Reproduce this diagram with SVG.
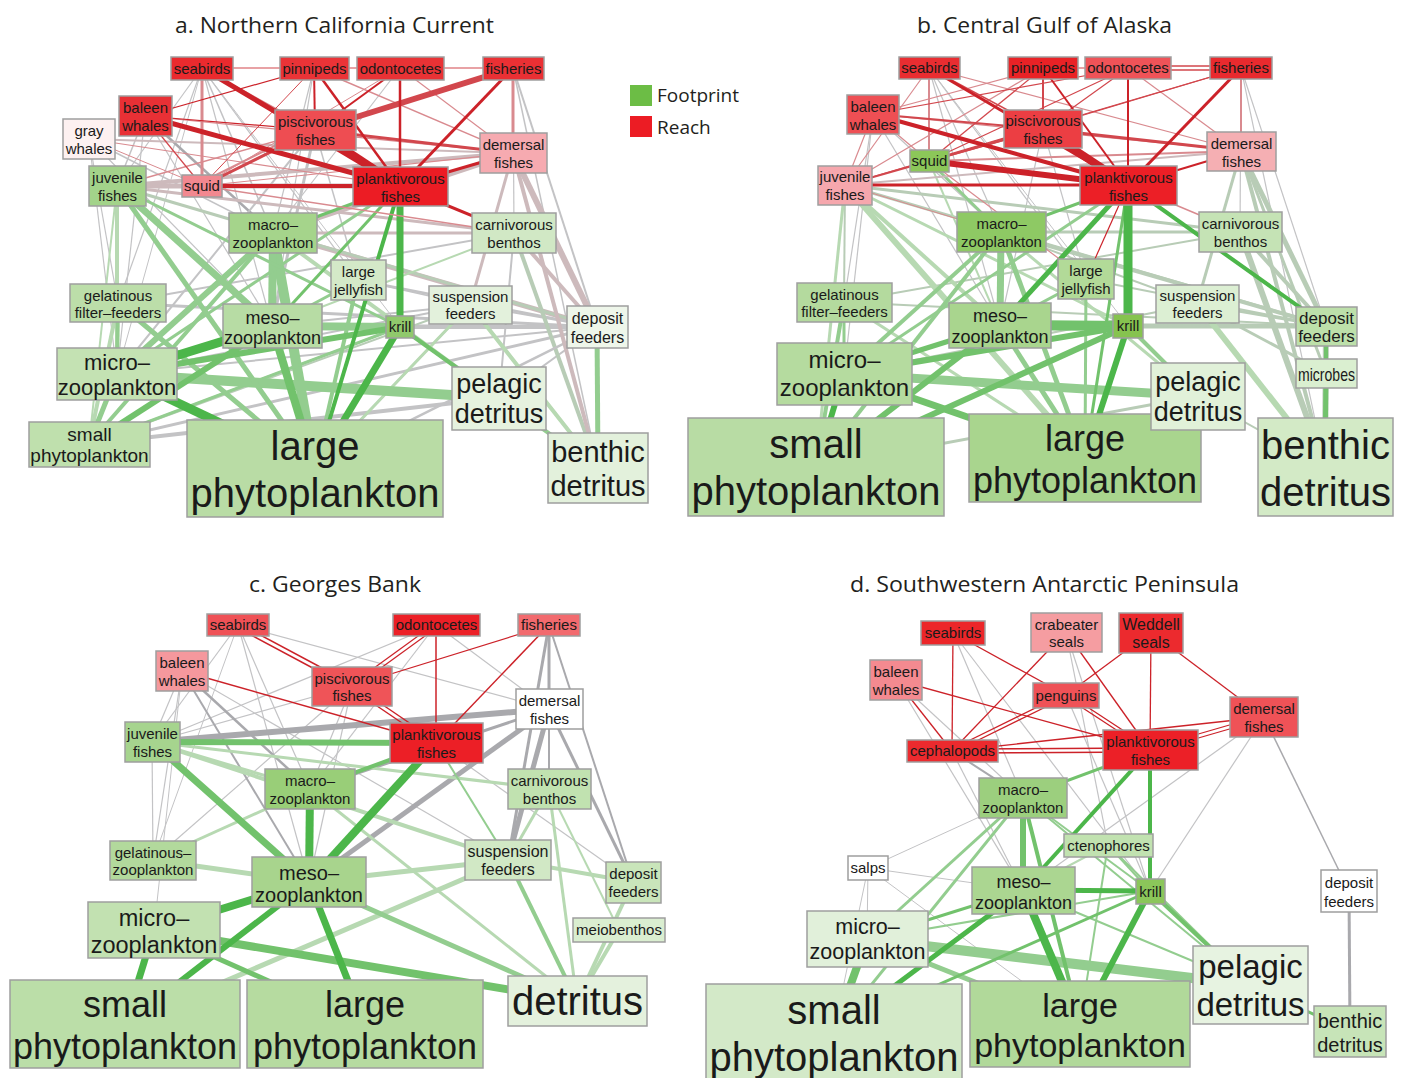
<svg xmlns="http://www.w3.org/2000/svg" width="1405" height="1078" viewBox="0 0 1405 1078">
<style>
.bg{fill:#fff}
line{fill:none}
.R{stroke:#cc2229}.Rm{stroke:#d2474d}.Rl{stroke:#d98a8f}.Rp{stroke:#cdbabc}
.G{stroke:#c3c3c5}.Gd{stroke:#a9a9ad}.NG{stroke:#b8ccb6}
.N1{stroke:#4cb64a}.N2{stroke:#72c26c}.N3{stroke:#93cd8f}.N4{stroke:#b7d9b2}
.nd rect{stroke:#9e9e9e;stroke-width:1.5}
.nd text{font-family:"Liberation Sans",Arial,sans-serif;text-anchor:middle;fill:#1a1a1a;font-size:15px}
.ttl{font-family:"Open Sans","Liberation Sans",sans-serif;font-size:22px;fill:#231f20}
.leg{font-family:"Open Sans","Liberation Sans",sans-serif;font-size:19px;fill:#231f20}
</style>
<rect class="bg" x="0" y="0" width="1405" height="1078"/>
<text class="ttl" x="175" y="33" textLength="319" lengthAdjust="spacingAndGlyphs">a. Northern California Current</text>
<text class="ttl" x="917" y="33" textLength="255" lengthAdjust="spacingAndGlyphs">b. Central Gulf of Alaska</text>
<text class="ttl" x="249" y="592" textLength="172" lengthAdjust="spacingAndGlyphs">c. Georges Bank</text>
<text class="ttl" x="850" y="592" textLength="389" lengthAdjust="spacingAndGlyphs">d. Southwestern Antarctic Peninsula</text>
<g id="legend">
<rect x="630" y="85" width="22" height="21" fill="#6cbd45"/>
<text class="leg" x="657" y="102">Footprint</text>
<rect x="630" y="116" width="22" height="21" fill="#ec1c24"/>
<text class="leg" x="657" y="134">Reach</text>
</g>
<g id="connectors">
<g id="edges-a">
<line class="G" x1="202" y1="68" x2="117" y2="186" stroke-width="1.2"/>
<line class="G" x1="202" y1="68" x2="273" y2="233" stroke-width="1.5"/>
<line class="G" x1="202" y1="68" x2="272" y2="326" stroke-width="1.2"/>
<line class="G" x1="202" y1="68" x2="118" y2="303" stroke-width="1.2"/>
<line class="G" x1="202" y1="68" x2="358" y2="280" stroke-width="1.2"/>
<line class="G" x1="202" y1="68" x2="117" y2="374" stroke-width="1"/>
<line class="G" x1="202" y1="68" x2="400" y2="327" stroke-width="1"/>
<line class="G" x1="145" y1="116" x2="117" y2="186" stroke-width="1.5"/>
<line class="G" x1="145" y1="116" x2="117" y2="374" stroke-width="1.2"/>
<line class="G" x1="145" y1="116" x2="272" y2="326" stroke-width="1.2"/>
<line class="Gd" x1="145" y1="116" x2="273" y2="233" stroke-width="2.5"/>
<line class="G" x1="89" y1="139" x2="117" y2="374" stroke-width="1.2"/>
<line class="G" x1="89" y1="139" x2="273" y2="233" stroke-width="1.5"/>
<line class="G" x1="89" y1="139" x2="118" y2="303" stroke-width="1.2"/>
<line class="G" x1="89" y1="139" x2="272" y2="326" stroke-width="1.2"/>
<line class="G" x1="513" y1="68" x2="597" y2="327" stroke-width="2"/>
<line class="G" x1="513" y1="68" x2="598" y2="468" stroke-width="1.5"/>
<line class="G" x1="513" y1="68" x2="514" y2="233" stroke-width="1.2"/>
<line class="G" x1="314" y1="68" x2="272" y2="326" stroke-width="1.2"/>
<line class="G" x1="314" y1="68" x2="273" y2="233" stroke-width="1.2"/>
<line class="G" x1="400" y1="68" x2="273" y2="233" stroke-width="1.2"/>
<line class="G" x1="315" y1="130" x2="272" y2="326" stroke-width="3"/>
<line class="G" x1="315" y1="130" x2="117" y2="374" stroke-width="2"/>
<line class="G" x1="315" y1="130" x2="358" y2="280" stroke-width="1.5"/>
<line class="Rp" x1="273" y1="233" x2="597" y2="327" stroke-width="5"/>
<line class="G" x1="358" y1="280" x2="597" y2="327" stroke-width="2.5"/>
<line class="G" x1="118" y1="303" x2="597" y2="327" stroke-width="3"/>
<line class="G" x1="272" y1="326" x2="597" y2="327" stroke-width="4"/>
<line class="G" x1="400" y1="327" x2="597" y2="327" stroke-width="4"/>
<line class="G" x1="117" y1="374" x2="597" y2="327" stroke-width="2"/>
<line class="G" x1="89" y1="444" x2="499" y2="398" stroke-width="4"/>
<line class="G" x1="89" y1="444" x2="597" y2="327" stroke-width="3"/>
<line class="G" x1="499" y1="398" x2="597" y2="327" stroke-width="2"/>
<line class="G" x1="470" y1="305" x2="598" y2="468" stroke-width="3"/>
<line class="G" x1="470" y1="305" x2="597" y2="327" stroke-width="2"/>
<line class="NG" x1="514" y1="233" x2="598" y2="468" stroke-width="4"/>
<line class="Rp" x1="273" y1="233" x2="514" y2="233" stroke-width="3"/>
<line class="G" x1="358" y1="280" x2="470" y2="305" stroke-width="1.5"/>
<line class="G" x1="118" y1="303" x2="514" y2="233" stroke-width="2"/>
<line class="G" x1="117" y1="374" x2="470" y2="305" stroke-width="2"/>
<line class="G" x1="272" y1="326" x2="470" y2="305" stroke-width="2"/>
<line class="G" x1="89" y1="444" x2="400" y2="327" stroke-width="2"/>
<line class="G" x1="400" y1="327" x2="598" y2="468" stroke-width="3"/>
<line class="G" x1="499" y1="398" x2="514" y2="233" stroke-width="2"/>
<line class="G" x1="315" y1="468" x2="597" y2="327" stroke-width="2.5"/>
<line class="G" x1="315" y1="468" x2="470" y2="305" stroke-width="2"/>
<line class="NG" x1="117" y1="186" x2="597" y2="327" stroke-width="3"/>
<line class="NG" x1="89" y1="444" x2="470" y2="305" stroke-width="2"/>
<line class="Rp" x1="117" y1="186" x2="400" y2="186" stroke-width="5"/>
<line class="Rp" x1="117" y1="186" x2="202" y2="186" stroke-width="3"/>
<line class="Rp" x1="89" y1="139" x2="513" y2="153" stroke-width="2"/>
<line class="Rp" x1="117" y1="186" x2="513" y2="153" stroke-width="4"/>
<line class="Rp" x1="273" y1="233" x2="513" y2="153" stroke-width="5"/>
<line class="Rp" x1="513" y1="153" x2="597" y2="327" stroke-width="6"/>
<line class="Rp" x1="514" y1="233" x2="597" y2="327" stroke-width="4"/>
<line class="Rp" x1="513" y1="153" x2="470" y2="305" stroke-width="3"/>
<line class="Rp" x1="513" y1="153" x2="598" y2="468" stroke-width="4"/>
<line class="Rp" x1="117" y1="186" x2="514" y2="233" stroke-width="3"/>
<line class="N4" x1="117" y1="186" x2="117" y2="374" stroke-width="4"/>
<line class="N4" x1="117" y1="186" x2="89" y2="444" stroke-width="2"/>
<line class="N4" x1="118" y1="303" x2="89" y2="444" stroke-width="4"/>
<line class="N4" x1="470" y1="305" x2="315" y2="468" stroke-width="3"/>
<line class="N4" x1="470" y1="305" x2="598" y2="468" stroke-width="4"/>
<line class="N4" x1="514" y1="233" x2="272" y2="326" stroke-width="2"/>
<line class="N4" x1="273" y1="233" x2="499" y2="398" stroke-width="4"/>
<line class="N3" x1="273" y1="233" x2="315" y2="468" stroke-width="10"/>
<line class="N3" x1="273" y1="233" x2="272" y2="326" stroke-width="8"/>
<line class="N3" x1="273" y1="233" x2="117" y2="374" stroke-width="6"/>
<line class="N3" x1="273" y1="233" x2="89" y2="444" stroke-width="4"/>
<line class="N3" x1="400" y1="186" x2="117" y2="374" stroke-width="3"/>
<line class="N3" x1="400" y1="327" x2="272" y2="326" stroke-width="8"/>
<line class="N3" x1="400" y1="327" x2="89" y2="444" stroke-width="3"/>
<line class="N3" x1="117" y1="374" x2="89" y2="444" stroke-width="5"/>
<line class="N3" x1="117" y1="374" x2="499" y2="398" stroke-width="10"/>
<line class="N3" x1="117" y1="186" x2="272" y2="326" stroke-width="7"/>
<line class="N3" x1="117" y1="186" x2="315" y2="468" stroke-width="5"/>
<line class="N3" x1="117" y1="186" x2="400" y2="327" stroke-width="3"/>
<line class="N3" x1="118" y1="303" x2="117" y2="374" stroke-width="4"/>
<line class="N3" x1="118" y1="303" x2="315" y2="468" stroke-width="5"/>
<line class="N3" x1="358" y1="280" x2="315" y2="468" stroke-width="4"/>
<line class="N3" x1="358" y1="280" x2="272" y2="326" stroke-width="3"/>
<line class="N3" x1="499" y1="398" x2="598" y2="468" stroke-width="4"/>
<line class="N3" x1="597" y1="327" x2="598" y2="468" stroke-width="5"/>
<line class="N2" x1="273" y1="233" x2="400" y2="186" stroke-width="3"/>
<line class="N2" x1="400" y1="186" x2="272" y2="326" stroke-width="3"/>
<line class="N2" x1="400" y1="327" x2="117" y2="374" stroke-width="6"/>
<line class="N2" x1="400" y1="327" x2="499" y2="398" stroke-width="4"/>
<line class="N2" x1="272" y1="326" x2="315" y2="468" stroke-width="8"/>
<line class="N2" x1="272" y1="326" x2="89" y2="444" stroke-width="6"/>
<line class="N1" x1="272" y1="326" x2="117" y2="374" stroke-width="9"/>
<line class="N1" x1="117" y1="374" x2="315" y2="468" stroke-width="9"/>
<line class="N1" x1="400" y1="186" x2="400" y2="327" stroke-width="7"/>
<line class="N1" x1="400" y1="186" x2="315" y2="468" stroke-width="4"/>
<line class="N1" x1="400" y1="327" x2="315" y2="468" stroke-width="7"/>
<line class="Rl" x1="202" y1="68" x2="202" y2="186" stroke-width="3"/>
<line class="Rl" x1="202" y1="68" x2="315" y2="130" stroke-width="1.5"/>
<line class="Rl" x1="145" y1="116" x2="513" y2="153" stroke-width="1.2"/>
<line class="Rl" x1="202" y1="182" x2="315" y2="126" stroke-width="2"/>
<line class="Rl" x1="202" y1="186" x2="400" y2="68" stroke-width="1"/>
<line class="Rl" x1="202" y1="186" x2="513" y2="153" stroke-width="1.2"/>
<line class="Rl" x1="513" y1="68" x2="513" y2="153" stroke-width="3"/>
<line class="Rl" x1="314" y1="68" x2="513" y2="153" stroke-width="1.5"/>
<line class="Rl" x1="400" y1="68" x2="513" y2="153" stroke-width="1.2"/>
<line class="Rl" x1="117" y1="186" x2="315" y2="130" stroke-width="1.5"/>
<line class="Rl" x1="89" y1="139" x2="400" y2="186" stroke-width="1.2"/>
<line class="Rl" x1="89" y1="139" x2="202" y2="186" stroke-width="1"/>
<line class="Rl" x1="202" y1="186" x2="514" y2="233" stroke-width="1.5"/>
<line class="Rm" x1="202" y1="68" x2="314" y2="68" stroke-width="1.2"/>
<line class="Rm" x1="314" y1="68" x2="400" y2="68" stroke-width="1.2"/>
<line class="Rm" x1="400" y1="68" x2="513" y2="68" stroke-width="1.2"/>
<line class="Rm" x1="145" y1="116" x2="202" y2="186" stroke-width="1.2"/>
<line class="Rm" x1="202" y1="186" x2="315" y2="130" stroke-width="3"/>
<line class="Rm" x1="202" y1="186" x2="314" y2="68" stroke-width="1"/>
<line class="Rm" x1="315" y1="130" x2="513" y2="68" stroke-width="6"/>
<line class="Rm" x1="315" y1="130" x2="513" y2="153" stroke-width="3"/>
<line class="R" x1="202" y1="68" x2="400" y2="186" stroke-width="5"/>
<line class="R" x1="145" y1="116" x2="314" y2="68" stroke-width="1.2"/>
<line class="R" x1="145" y1="116" x2="315" y2="130" stroke-width="1.2"/>
<line class="R" x1="145" y1="116" x2="400" y2="186" stroke-width="5"/>
<line class="R" x1="202" y1="186" x2="400" y2="186" stroke-width="4"/>
<line class="R" x1="315" y1="130" x2="400" y2="186" stroke-width="8"/>
<line class="R" x1="315" y1="130" x2="314" y2="68" stroke-width="2"/>
<line class="R" x1="315" y1="130" x2="400" y2="68" stroke-width="2"/>
<line class="R" x1="400" y1="186" x2="513" y2="68" stroke-width="3"/>
<line class="R" x1="400" y1="186" x2="513" y2="153" stroke-width="3"/>
<line class="R" x1="400" y1="186" x2="514" y2="233" stroke-width="3"/>
<line class="R" x1="400" y1="186" x2="400" y2="68" stroke-width="2.5"/>
<line class="R" x1="400" y1="186" x2="314" y2="68" stroke-width="2.5"/>
</g>
<g id="edges-b">
<line class="G" x1="929" y1="68" x2="1001" y2="232" stroke-width="1.2"/>
<line class="G" x1="929" y1="68" x2="1000" y2="325" stroke-width="1.2"/>
<line class="G" x1="929" y1="68" x2="1086" y2="279" stroke-width="1.2"/>
<line class="G" x1="929" y1="68" x2="1128" y2="326" stroke-width="1"/>
<line class="G" x1="873" y1="114" x2="844" y2="374" stroke-width="1.2"/>
<line class="G" x1="873" y1="114" x2="844" y2="302" stroke-width="1.2"/>
<line class="G" x1="873" y1="114" x2="1000" y2="325" stroke-width="1.2"/>
<line class="G" x1="873" y1="114" x2="1001" y2="232" stroke-width="1.2"/>
<line class="G" x1="1241" y1="68" x2="1326" y2="326" stroke-width="1.2"/>
<line class="G" x1="1241" y1="68" x2="1325" y2="467" stroke-width="1.2"/>
<line class="G" x1="1241" y1="68" x2="1240" y2="232" stroke-width="1.2"/>
<line class="G" x1="1086" y1="279" x2="1085" y2="458" stroke-width="1.2"/>
<line class="G" x1="1043" y1="129" x2="1000" y2="325" stroke-width="1.2"/>
<line class="G" x1="1043" y1="129" x2="1086" y2="279" stroke-width="1.2"/>
<line class="NG" x1="1241" y1="151" x2="1326" y2="326" stroke-width="5"/>
<line class="NG" x1="1241" y1="151" x2="1325" y2="467" stroke-width="4"/>
<line class="NG" x1="1241" y1="151" x2="1197" y2="304" stroke-width="3"/>
<line class="NG" x1="1241" y1="151" x2="1326" y2="373" stroke-width="3"/>
<line class="NG" x1="1240" y1="232" x2="1326" y2="326" stroke-width="4"/>
<line class="NG" x1="1240" y1="232" x2="1325" y2="467" stroke-width="6"/>
<line class="NG" x1="845" y1="185" x2="844" y2="302" stroke-width="2"/>
<line class="NG" x1="845" y1="185" x2="1326" y2="326" stroke-width="3"/>
<line class="NG" x1="845" y1="185" x2="1240" y2="232" stroke-width="3"/>
<line class="NG" x1="1001" y1="232" x2="1326" y2="326" stroke-width="4"/>
<line class="NG" x1="1086" y1="279" x2="1326" y2="326" stroke-width="2"/>
<line class="NG" x1="1128" y1="326" x2="1326" y2="326" stroke-width="5"/>
<line class="NG" x1="1000" y1="325" x2="1326" y2="326" stroke-width="2"/>
<line class="NG" x1="1197" y1="304" x2="1326" y2="373" stroke-width="3"/>
<line class="NG" x1="1197" y1="304" x2="1326" y2="326" stroke-width="3"/>
<line class="NG" x1="844" y1="302" x2="1326" y2="326" stroke-width="2"/>
<line class="NG" x1="844" y1="374" x2="1197" y2="304" stroke-width="2"/>
<line class="NG" x1="816" y1="467" x2="1198" y2="396" stroke-width="3"/>
<line class="NG" x1="1198" y1="396" x2="1325" y2="467" stroke-width="2"/>
<line class="NG" x1="1001" y1="232" x2="1197" y2="304" stroke-width="2"/>
<line class="NG" x1="1001" y1="232" x2="1240" y2="232" stroke-width="3"/>
<line class="NG" x1="844" y1="302" x2="1240" y2="232" stroke-width="2"/>
<line class="NG" x1="1326" y1="326" x2="1325" y2="467" stroke-width="6"/>
<line class="N4" x1="845" y1="185" x2="1085" y2="458" stroke-width="6"/>
<line class="N4" x1="845" y1="185" x2="1000" y2="325" stroke-width="4"/>
<line class="N4" x1="845" y1="185" x2="816" y2="467" stroke-width="3"/>
<line class="N4" x1="845" y1="185" x2="1128" y2="326" stroke-width="3"/>
<line class="N4" x1="1197" y1="304" x2="1325" y2="467" stroke-width="6"/>
<line class="N4" x1="1001" y1="232" x2="1198" y2="396" stroke-width="3"/>
<line class="N4" x1="844" y1="302" x2="1085" y2="458" stroke-width="3"/>
<line class="N4" x1="929" y1="161" x2="1000" y2="325" stroke-width="2"/>
<line class="N3" x1="1128" y1="185" x2="844" y2="374" stroke-width="3"/>
<line class="N3" x1="1001" y1="232" x2="1000" y2="325" stroke-width="7"/>
<line class="N3" x1="1001" y1="232" x2="1085" y2="458" stroke-width="5"/>
<line class="N3" x1="1001" y1="232" x2="844" y2="374" stroke-width="4"/>
<line class="N3" x1="1001" y1="232" x2="816" y2="467" stroke-width="4"/>
<line class="N3" x1="1128" y1="326" x2="1198" y2="396" stroke-width="4"/>
<line class="N3" x1="1000" y1="325" x2="1085" y2="458" stroke-width="5"/>
<line class="N3" x1="844" y1="374" x2="1198" y2="396" stroke-width="9"/>
<line class="N3" x1="844" y1="302" x2="816" y2="467" stroke-width="4"/>
<line class="N3" x1="844" y1="302" x2="844" y2="374" stroke-width="3"/>
<line class="N3" x1="929" y1="161" x2="1001" y2="232" stroke-width="3"/>
<line class="N3" x1="1086" y1="279" x2="1085" y2="458" stroke-width="3"/>
<line class="N3" x1="1086" y1="279" x2="1000" y2="325" stroke-width="3"/>
<line class="N3" x1="1085" y1="458" x2="1198" y2="396" stroke-width="4"/>
<line class="N2" x1="1128" y1="185" x2="1001" y2="232" stroke-width="3"/>
<line class="N2" x1="1128" y1="185" x2="1085" y2="458" stroke-width="3"/>
<line class="N2" x1="1128" y1="326" x2="1000" y2="325" stroke-width="10"/>
<line class="N2" x1="1128" y1="326" x2="816" y2="467" stroke-width="6"/>
<line class="N2" x1="1128" y1="326" x2="844" y2="374" stroke-width="6"/>
<line class="N2" x1="1000" y1="325" x2="816" y2="467" stroke-width="6"/>
<line class="N2" x1="1000" y1="325" x2="844" y2="374" stroke-width="5"/>
<line class="N2" x1="844" y1="374" x2="1085" y2="458" stroke-width="7"/>
<line class="N2" x1="1326" y1="373" x2="1325" y2="467" stroke-width="5"/>
<line class="N2" x1="1326" y1="326" x2="1326" y2="373" stroke-width="4"/>
<line class="N1" x1="1128" y1="185" x2="1128" y2="326" stroke-width="9"/>
<line class="N1" x1="1128" y1="185" x2="1000" y2="325" stroke-width="5"/>
<line class="N1" x1="1128" y1="185" x2="1326" y2="326" stroke-width="4"/>
<line class="N1" x1="1128" y1="326" x2="1085" y2="458" stroke-width="6"/>
<line class="N1" x1="844" y1="374" x2="816" y2="467" stroke-width="6"/>
<line class="Rp" x1="845" y1="185" x2="1241" y2="151" stroke-width="2"/>
<line class="Rl" x1="929" y1="68" x2="929" y2="161" stroke-width="2"/>
<line class="Rl" x1="929" y1="68" x2="845" y2="185" stroke-width="1.2"/>
<line class="Rl" x1="929" y1="68" x2="1241" y2="151" stroke-width="1.2"/>
<line class="Rl" x1="1241" y1="68" x2="1241" y2="151" stroke-width="2"/>
<line class="Rl" x1="873" y1="114" x2="929" y2="161" stroke-width="1.2"/>
<line class="Rl" x1="873" y1="114" x2="845" y2="185" stroke-width="1.2"/>
<line class="Rl" x1="873" y1="114" x2="1043" y2="68" stroke-width="1.2"/>
<line class="Rl" x1="873" y1="114" x2="1241" y2="151" stroke-width="1.2"/>
<line class="Rl" x1="1043" y1="68" x2="845" y2="185" stroke-width="1.2"/>
<line class="Rl" x1="1128" y1="68" x2="1241" y2="151" stroke-width="1.2"/>
<line class="Rl" x1="929" y1="161" x2="1241" y2="151" stroke-width="2"/>
<line class="Rl" x1="1128" y1="185" x2="1240" y2="232" stroke-width="1.5"/>
<line class="Rl" x1="929" y1="161" x2="1086" y2="279" stroke-width="1.2"/>
<line class="Rl" x1="845" y1="185" x2="1001" y2="232" stroke-width="1"/>
<line class="Rm" x1="929" y1="68" x2="1043" y2="129" stroke-width="1.5"/>
<line class="Rm" x1="1043" y1="68" x2="1128" y2="68" stroke-width="1.2"/>
<line class="Rm" x1="1128" y1="66" x2="1241" y2="66" stroke-width="1.5"/>
<line class="Rm" x1="1128" y1="70" x2="1241" y2="70" stroke-width="1.5"/>
<line class="Rm" x1="1241" y1="68" x2="929" y2="161" stroke-width="1.2"/>
<line class="Rm" x1="1241" y1="68" x2="845" y2="185" stroke-width="1.2"/>
<line class="Rm" x1="873" y1="114" x2="1043" y2="129" stroke-width="2"/>
<line class="Rm" x1="873" y1="114" x2="1128" y2="68" stroke-width="1.2"/>
<line class="Rm" x1="1043" y1="68" x2="1043" y2="129" stroke-width="2"/>
<line class="Rm" x1="1043" y1="68" x2="929" y2="161" stroke-width="1.2"/>
<line class="Rm" x1="1128" y1="68" x2="1043" y2="129" stroke-width="1.2"/>
<line class="Rm" x1="1128" y1="68" x2="929" y2="161" stroke-width="1.2"/>
<line class="Rm" x1="1043" y1="129" x2="1241" y2="151" stroke-width="3"/>
<line class="Rm" x1="1043" y1="129" x2="929" y2="161" stroke-width="2"/>
<line class="Rm" x1="1043" y1="129" x2="845" y2="185" stroke-width="2"/>
<line class="R" x1="929" y1="68" x2="1128" y2="185" stroke-width="3"/>
<line class="R" x1="1241" y1="68" x2="1128" y2="185" stroke-width="3"/>
<line class="R" x1="873" y1="114" x2="1128" y2="185" stroke-width="4"/>
<line class="R" x1="1043" y1="68" x2="1128" y2="185" stroke-width="2"/>
<line class="R" x1="1128" y1="68" x2="1128" y2="185" stroke-width="2"/>
<line class="R" x1="1043" y1="129" x2="1128" y2="185" stroke-width="8"/>
<line class="R" x1="929" y1="161" x2="1128" y2="185" stroke-width="6"/>
<line class="R" x1="845" y1="185" x2="1128" y2="185" stroke-width="3"/>
<line class="R" x1="1128" y1="185" x2="1241" y2="151" stroke-width="2"/>
<line class="R" x1="1128" y1="185" x2="1086" y2="279" stroke-width="1.2"/>
</g>
<g id="edges-c">
<line class="G" x1="238" y1="625" x2="549" y2="709" stroke-width="1.2"/>
<line class="G" x1="238" y1="625" x2="152" y2="742" stroke-width="1.2"/>
<line class="G" x1="238" y1="625" x2="310" y2="789" stroke-width="1.2"/>
<line class="G" x1="238" y1="625" x2="309" y2="882" stroke-width="1.2"/>
<line class="G" x1="238" y1="625" x2="153" y2="860" stroke-width="1"/>
<line class="G" x1="182" y1="671" x2="152" y2="742" stroke-width="1.2"/>
<line class="G" x1="182" y1="671" x2="153" y2="860" stroke-width="1.2"/>
<line class="G" x1="182" y1="671" x2="154" y2="930" stroke-width="1"/>
<line class="G" x1="182" y1="671" x2="508" y2="860" stroke-width="1.2"/>
<line class="G" x1="436" y1="625" x2="310" y2="789" stroke-width="1.2"/>
<line class="G" x1="436" y1="625" x2="152" y2="742" stroke-width="1.2"/>
<line class="G" x1="436" y1="625" x2="549" y2="709" stroke-width="1.2"/>
<line class="G" x1="352" y1="686" x2="152" y2="742" stroke-width="1.2"/>
<line class="G" x1="352" y1="686" x2="153" y2="860" stroke-width="1.2"/>
<line class="G" x1="352" y1="686" x2="309" y2="882" stroke-width="1.2"/>
<line class="G" x1="352" y1="686" x2="310" y2="789" stroke-width="1.2"/>
<line class="G" x1="152" y1="742" x2="153" y2="860" stroke-width="1.2"/>
<line class="G" x1="309" y1="882" x2="577" y2="1001" stroke-width="1"/>
<line class="G" x1="436" y1="743" x2="633" y2="882" stroke-width="1.2"/>
<line class="G" x1="153" y1="860" x2="310" y2="789" stroke-width="1.2"/>
<line class="Gd" x1="182" y1="671" x2="310" y2="789" stroke-width="2.5"/>
<line class="Gd" x1="182" y1="671" x2="309" y2="882" stroke-width="2"/>
<line class="Gd" x1="152" y1="742" x2="549" y2="709" stroke-width="6"/>
<line class="Gd" x1="310" y1="789" x2="549" y2="709" stroke-width="3"/>
<line class="Gd" x1="309" y1="882" x2="549" y2="709" stroke-width="5"/>
<line class="Gd" x1="549" y1="709" x2="508" y2="860" stroke-width="5"/>
<line class="Gd" x1="549" y1="625" x2="508" y2="860" stroke-width="3"/>
<line class="Gd" x1="549" y1="625" x2="549" y2="709" stroke-width="3"/>
<line class="Gd" x1="549" y1="709" x2="633" y2="882" stroke-width="3"/>
<line class="Gd" x1="549" y1="709" x2="549" y2="789" stroke-width="2"/>
<line class="Gd" x1="549" y1="625" x2="633" y2="882" stroke-width="2"/>
<line class="N4" x1="152" y1="742" x2="508" y2="860" stroke-width="4"/>
<line class="N4" x1="152" y1="742" x2="549" y2="789" stroke-width="3"/>
<line class="N4" x1="152" y1="742" x2="310" y2="789" stroke-width="3"/>
<line class="N4" x1="508" y1="860" x2="125" y2="1024" stroke-width="5"/>
<line class="N4" x1="508" y1="860" x2="633" y2="882" stroke-width="4"/>
<line class="N4" x1="508" y1="860" x2="309" y2="882" stroke-width="5"/>
<line class="N4" x1="153" y1="860" x2="309" y2="882" stroke-width="5"/>
<line class="N4" x1="153" y1="860" x2="310" y2="789" stroke-width="3"/>
<line class="N4" x1="633" y1="882" x2="577" y2="1001" stroke-width="4"/>
<line class="N4" x1="619" y1="930" x2="577" y2="1001" stroke-width="4"/>
<line class="N4" x1="549" y1="789" x2="577" y2="1001" stroke-width="3"/>
<line class="N4" x1="549" y1="789" x2="508" y2="860" stroke-width="3"/>
<line class="N4" x1="310" y1="789" x2="577" y2="1001" stroke-width="3"/>
<line class="N4" x1="549" y1="789" x2="619" y2="930" stroke-width="2"/>
<line class="N3" x1="309" y1="882" x2="577" y2="1001" stroke-width="5"/>
<line class="N3" x1="508" y1="860" x2="577" y2="1001" stroke-width="4"/>
<line class="N3" x1="436" y1="743" x2="508" y2="860" stroke-width="2"/>
<line class="N2" x1="152" y1="742" x2="436" y2="743" stroke-width="6"/>
<line class="N2" x1="436" y1="743" x2="310" y2="789" stroke-width="4"/>
<line class="N2" x1="152" y1="742" x2="309" y2="882" stroke-width="7"/>
<line class="N2" x1="154" y1="930" x2="365" y2="1024" stroke-width="5"/>
<line class="N2" x1="154" y1="930" x2="577" y2="1001" stroke-width="8"/>
<line class="N1" x1="436" y1="743" x2="309" y2="882" stroke-width="8"/>
<line class="N1" x1="310" y1="789" x2="309" y2="882" stroke-width="8"/>
<line class="N1" x1="309" y1="882" x2="154" y2="930" stroke-width="8"/>
<line class="N1" x1="309" y1="882" x2="125" y2="1024" stroke-width="6"/>
<line class="N1" x1="309" y1="882" x2="365" y2="1024" stroke-width="7"/>
<line class="N1" x1="154" y1="930" x2="125" y2="1024" stroke-width="7"/>
<line class="R" x1="238" y1="623" x2="352" y2="684" stroke-width="1.5"/>
<line class="R" x1="238" y1="628" x2="352" y2="689" stroke-width="1.5"/>
<line class="R" x1="436" y1="623" x2="352" y2="684" stroke-width="1.2"/>
<line class="R" x1="436" y1="628" x2="352" y2="689" stroke-width="1.2"/>
<line class="R" x1="436" y1="625" x2="436" y2="743" stroke-width="1.5"/>
<line class="R" x1="549" y1="625" x2="352" y2="686" stroke-width="1.2"/>
<line class="R" x1="549" y1="625" x2="436" y2="743" stroke-width="1.5"/>
<line class="R" x1="182" y1="671" x2="436" y2="743" stroke-width="1.5"/>
<line class="R" x1="352" y1="684" x2="436" y2="741" stroke-width="1.5"/>
<line class="R" x1="352" y1="689" x2="436" y2="746" stroke-width="1.5"/>
</g>
<g id="edges-d">
<line class="G" x1="953" y1="633" x2="1023" y2="797" stroke-width="1.2"/>
<line class="G" x1="953" y1="633" x2="1150" y2="891" stroke-width="1.2"/>
<line class="G" x1="1066" y1="632" x2="1150" y2="891" stroke-width="1.2"/>
<line class="G" x1="1066" y1="632" x2="1108" y2="845" stroke-width="1.2"/>
<line class="G" x1="896" y1="680" x2="1023" y2="797" stroke-width="1.2"/>
<line class="G" x1="896" y1="680" x2="1023" y2="890" stroke-width="1.2"/>
<line class="Gd" x1="952" y1="751" x2="1023" y2="797" stroke-width="2"/>
<line class="G" x1="952" y1="751" x2="1023" y2="890" stroke-width="1.2"/>
<line class="G" x1="1066" y1="695" x2="1150" y2="891" stroke-width="1.2"/>
<line class="G" x1="1264" y1="717" x2="1023" y2="890" stroke-width="1.2"/>
<line class="G" x1="1264" y1="717" x2="1150" y2="891" stroke-width="1.2"/>
<line class="Gd" x1="1264" y1="717" x2="1349" y2="891" stroke-width="1.5"/>
<line class="Gd" x1="1349" y1="891" x2="1350" y2="1031" stroke-width="3"/>
<line class="G" x1="868" y1="868" x2="1023" y2="797" stroke-width="1"/>
<line class="G" x1="868" y1="868" x2="867" y2="939" stroke-width="1"/>
<line class="G" x1="868" y1="868" x2="1023" y2="890" stroke-width="1"/>
<line class="G" x1="868" y1="868" x2="834" y2="1031" stroke-width="1"/>
<line class="G" x1="868" y1="868" x2="1080" y2="1024" stroke-width="1"/>
<line class="G" x1="1023" y1="797" x2="1250" y2="985" stroke-width="1"/>
<line class="N4" x1="1108" y1="845" x2="1023" y2="890" stroke-width="2"/>
<line class="N3" x1="1023" y1="797" x2="834" y2="1031" stroke-width="3"/>
<line class="N3" x1="1023" y1="797" x2="867" y2="939" stroke-width="3"/>
<line class="N3" x1="1023" y1="797" x2="1150" y2="891" stroke-width="2"/>
<line class="N3" x1="1023" y1="797" x2="1250" y2="985" stroke-width="2"/>
<line class="N3" x1="1023" y1="890" x2="1250" y2="985" stroke-width="2"/>
<line class="N3" x1="1150" y1="891" x2="867" y2="939" stroke-width="2"/>
<line class="N3" x1="1108" y1="845" x2="1150" y2="891" stroke-width="2"/>
<line class="N3" x1="1108" y1="845" x2="1250" y2="985" stroke-width="2"/>
<line class="N3" x1="1108" y1="845" x2="1080" y2="1024" stroke-width="2"/>
<line class="N3" x1="867" y1="939" x2="1250" y2="985" stroke-width="10"/>
<line class="N3" x1="867" y1="939" x2="1080" y2="1024" stroke-width="5"/>
<line class="N2" x1="1023" y1="797" x2="1023" y2="890" stroke-width="6"/>
<line class="N2" x1="1023" y1="797" x2="1080" y2="1024" stroke-width="4"/>
<line class="N2" x1="1023" y1="890" x2="867" y2="939" stroke-width="3"/>
<line class="N2" x1="1150" y1="891" x2="1250" y2="985" stroke-width="4"/>
<line class="N2" x1="1150" y1="891" x2="834" y2="1031" stroke-width="3"/>
<line class="N2" x1="867" y1="939" x2="834" y2="1031" stroke-width="8"/>
<line class="N2" x1="1250" y1="985" x2="1350" y2="1031" stroke-width="3"/>
<line class="N2" x1="1150" y1="750" x2="1023" y2="797" stroke-width="3"/>
<line class="N1" x1="1150" y1="750" x2="1150" y2="891" stroke-width="4"/>
<line class="N1" x1="1150" y1="750" x2="1023" y2="890" stroke-width="4"/>
<line class="N1" x1="1023" y1="890" x2="1150" y2="891" stroke-width="5"/>
<line class="N1" x1="1023" y1="890" x2="1080" y2="1024" stroke-width="8"/>
<line class="N1" x1="1023" y1="890" x2="834" y2="1031" stroke-width="5"/>
<line class="N1" x1="1150" y1="891" x2="1080" y2="1024" stroke-width="6"/>
<line class="R" x1="953" y1="633" x2="952" y2="751" stroke-width="1.3"/>
<line class="R" x1="953" y1="633" x2="1066" y2="695" stroke-width="1.3"/>
<line class="R" x1="1066" y1="632" x2="952" y2="751" stroke-width="1.3"/>
<line class="R" x1="1066" y1="632" x2="1150" y2="750" stroke-width="1.3"/>
<line class="R" x1="1151" y1="632" x2="1066" y2="695" stroke-width="1.3"/>
<line class="R" x1="1151" y1="632" x2="1150" y2="750" stroke-width="1.3"/>
<line class="R" x1="1151" y1="632" x2="1264" y2="717" stroke-width="1.3"/>
<line class="R" x1="896" y1="680" x2="952" y2="751" stroke-width="1.3"/>
<line class="R" x1="896" y1="680" x2="1150" y2="750" stroke-width="1.3"/>
<line class="R" x1="1066" y1="693" x2="952" y2="749" stroke-width="1.3"/>
<line class="R" x1="1066" y1="697" x2="952" y2="753" stroke-width="1.3"/>
<line class="R" x1="1066" y1="693" x2="1150" y2="748" stroke-width="1.3"/>
<line class="R" x1="1066" y1="697" x2="1150" y2="752" stroke-width="1.3"/>
<line class="R" x1="952" y1="749" x2="1150" y2="748" stroke-width="1.5"/>
<line class="R" x1="952" y1="753" x2="1150" y2="752" stroke-width="1.5"/>
<line class="R" x1="952" y1="751" x2="1264" y2="717" stroke-width="1.3"/>
<line class="R" x1="1150" y1="748" x2="1264" y2="715" stroke-width="1.3"/>
<line class="R" x1="1150" y1="752" x2="1264" y2="719" stroke-width="1.3"/>
</g>
</g>
<g id="nodes-a" class="nd">
<g id="a-seabirds"><rect x="171" y="57" width="62" height="23" fill="#ea2a2e"/><text x="202" y="74">seabirds</text></g>
<g id="a-pinnipeds"><rect x="280" y="57" width="69" height="23" fill="#ea3337"/><text x="314.5" y="74">pinnipeds</text></g>
<g id="a-odontocetes"><rect x="357" y="57" width="87" height="23" fill="#e93235"/><text x="400.5" y="74">odontocetes</text></g>
<g id="a-fisheries"><rect x="483" y="57" width="61" height="23" fill="#ea3034"/><text x="513.5" y="74">fisheries</text></g>
<g id="a-baleen-whales"><rect x="119" y="96" width="53" height="40" fill="#e83035"/><text x="145.5" y="113">baleen</text><text x="145.5" y="131">whales</text></g>
<g id="a-gray-whales"><rect x="63" y="119" width="52" height="40" fill="#fdf1f1"/><text x="89" y="136">gray</text><text x="89" y="154">whales</text></g>
<g id="a-piscivorous-fishes"><rect x="275" y="110" width="81" height="40" fill="#ee4d52"/><text x="315.5" y="127">piscivorous</text><text x="315.5" y="145">fishes</text></g>
<g id="a-demersal-fishes"><rect x="480" y="133" width="67" height="40" fill="#f6aab0"/><text x="513.5" y="150">demersal</text><text x="513.5" y="168">fishes</text></g>
<g id="a-squid"><rect x="182" y="175" width="40" height="22" fill="#f28890"/><text x="202" y="191">squid</text></g>
<g id="a-juvenile-fishes"><rect x="89" y="166" width="57" height="40" fill="#a3d38a"/><text x="117.5" y="183">juvenile</text><text x="117.5" y="201">fishes</text></g>
<g id="a-planktivorous-fishes"><rect x="353" y="167" width="95" height="39" fill="#ec1c24"/><text x="400.5" y="184">planktivorous</text><text x="400.5" y="202">fishes</text></g>
<g id="a-macro-zooplankton"><rect x="229" y="213" width="88" height="40" fill="#a5d48b"/><text x="273" y="230">macro–</text><text x="273" y="248">zooplankton</text></g>
<g id="a-carnivorous-benthos"><rect x="472" y="213" width="84" height="40" fill="#d1e8c5"/><text x="514" y="230">carnivorous</text><text x="514" y="248">benthos</text></g>
<g id="a-large-jellyfish"><rect x="331" y="260" width="55" height="40" fill="#d4e9c8"/><text x="358.5" y="277">large</text><text x="358.5" y="295">jellyfish</text></g>
<g id="a-gelatinous-filter-feeders"><rect x="70" y="284" width="96" height="38" fill="#bcdea9"/><text x="118" y="301">gelatinous</text><text x="118" y="318">filter–feeders</text></g>
<g id="a-suspension-feeders"><rect x="429" y="286" width="83" height="38" fill="#e3f1dc"/><text x="470.5" y="302">suspension</text><text x="470.5" y="319">feeders</text></g>
<g id="a-meso-zooplankton"><rect x="223" y="304" width="99" height="44" fill="#b7dca4"/><text x="272.5" y="324" style="font-size:18px">meso–</text><text x="272.5" y="344" style="font-size:18px">zooplankton</text></g>
<g id="a-krill"><rect x="386" y="316" width="28" height="22" fill="#90c96c"/><text x="400" y="332">krill</text></g>
<g id="a-deposit-feeders"><rect x="567" y="306" width="61" height="42" fill="#eef6ea"/><text x="597.5" y="324" style="font-size:16px">deposit</text><text x="597.5" y="343" style="font-size:16px">feeders</text></g>
<g id="a-micro-zooplankton"><rect x="57" y="348" width="120" height="52" fill="#c4e2b3"/><text x="117" y="370" style="font-size:22px">micro–</text><text x="117" y="395" style="font-size:22px">zooplankton</text></g>
<g id="a-pelagic-detritus"><rect x="452" y="367" width="94" height="63" fill="#e6f2df"/><text x="499" y="393" style="font-size:27px">pelagic</text><text x="499" y="423" style="font-size:27px">detritus</text></g>
<g id="a-small-phytoplankton"><rect x="29" y="422" width="121" height="45" fill="#bfe0ad"/><text x="89.5" y="441" style="font-size:19px">small</text><text x="89.5" y="462" style="font-size:19px">phytoplankton</text></g>
<g id="a-large-phytoplankton"><rect x="187" y="420" width="256" height="97" fill="#b9dca5"/><text x="315" y="460" style="font-size:40px">large</text><text x="315" y="507" style="font-size:40px">phytoplankton</text></g>
<g id="a-benthic-detritus"><rect x="548" y="433" width="100" height="70" fill="#e3f1dc"/><text x="598" y="462" style="font-size:29px">benthic</text><text x="598" y="496" style="font-size:29px">detritus</text></g>
</g>
<g id="nodes-b" class="nd">
<g id="b-seabirds"><rect x="899" y="57" width="61" height="22" fill="#e92d31"/><text x="929.5" y="73">seabirds</text></g>
<g id="b-pinnipeds"><rect x="1008" y="57" width="70" height="22" fill="#e92226"/><text x="1043" y="73">pinnipeds</text></g>
<g id="b-odontocetes"><rect x="1085" y="57" width="86" height="22" fill="#ef5358"/><text x="1128" y="73">odontocetes</text></g>
<g id="b-fisheries"><rect x="1210" y="57" width="62" height="22" fill="#e92a2e"/><text x="1241" y="73">fisheries</text></g>
<g id="b-baleen-whales"><rect x="847" y="95" width="52" height="39" fill="#ee4f54"/><text x="873" y="112">baleen</text><text x="873" y="130">whales</text></g>
<g id="b-piscivorous-fishes"><rect x="1004" y="110" width="78" height="38" fill="#ec3e43"/><text x="1043" y="126">piscivorous</text><text x="1043" y="144">fishes</text></g>
<g id="b-demersal-fishes"><rect x="1207" y="132" width="69" height="39" fill="#f5afb3"/><text x="1241.5" y="149">demersal</text><text x="1241.5" y="167">fishes</text></g>
<g id="b-squid"><rect x="910" y="150" width="39" height="22" fill="#8cc759"/><text x="929.5" y="166">squid</text></g>
<g id="b-juvenile-fishes"><rect x="818" y="166" width="54" height="39" fill="#f6a7ad"/><text x="845" y="182">juvenile</text><text x="845" y="200">fishes</text></g>
<g id="b-planktivorous-fishes"><rect x="1080" y="166" width="97" height="39" fill="#ec1f26"/><text x="1128.5" y="183">planktivorous</text><text x="1128.5" y="201">fishes</text></g>
<g id="b-macro-zooplankton"><rect x="957" y="212" width="89" height="40" fill="#8ec964"/><text x="1001.5" y="229">macro–</text><text x="1001.5" y="247">zooplankton</text></g>
<g id="b-carnivorous-benthos"><rect x="1199" y="212" width="83" height="40" fill="#c5e3b5"/><text x="1240.5" y="229">carnivorous</text><text x="1240.5" y="247">benthos</text></g>
<g id="b-large-jellyfish"><rect x="1058" y="259" width="56" height="40" fill="#b2da98"/><text x="1086" y="276">large</text><text x="1086" y="294">jellyfish</text></g>
<g id="b-gelatinous-filter-feeders"><rect x="797" y="283" width="95" height="39" fill="#b4da9e"/><text x="844.5" y="300">gelatinous</text><text x="844.5" y="317">filter–feeders</text></g>
<g id="b-suspension-feeders"><rect x="1156" y="285" width="83" height="38" fill="#dcefd3"/><text x="1197.5" y="301">suspension</text><text x="1197.5" y="318">feeders</text></g>
<g id="b-meso-zooplankton"><rect x="949" y="303" width="102" height="45" fill="#a9d58e"/><text x="1000" y="322" style="font-size:18px">meso–</text><text x="1000" y="343" style="font-size:18px">zooplankton</text></g>
<g id="b-krill"><rect x="1113" y="314" width="30" height="24" fill="#86c34f"/><text x="1128" y="331">krill</text></g>
<g id="b-deposit-feeders"><rect x="1296" y="307" width="61" height="39" fill="#bde0aa"/><text x="1326.5" y="324" style="font-size:17px">deposit</text><text x="1326.5" y="342" style="font-size:17px">feeders</text></g>
<g id="b-micro-zooplankton"><rect x="777" y="343" width="135" height="62" fill="#b5db9f"/><text x="844.5" y="368" style="font-size:24px">micro–</text><text x="844.5" y="396" style="font-size:24px">zooplankton</text></g>
<g id="b-microbes"><rect x="1296" y="359" width="61" height="29" fill="#daefd0"/><text x="1326.5" y="381" style="font-size:19px" textLength="57" lengthAdjust="spacingAndGlyphs">microbes</text></g>
<g id="b-small-phytoplankton"><rect x="688" y="418" width="256" height="98" fill="#b8dca4"/><text x="816" y="458" style="font-size:40px">small</text><text x="816" y="505" style="font-size:40px">phytoplankton</text></g>
<g id="b-large-phytoplankton"><rect x="969" y="414" width="232" height="88" fill="#a9d58e"/><text x="1085" y="451" style="font-size:36px">large</text><text x="1085" y="493" style="font-size:36px">phytoplankton</text></g>
<g id="b-pelagic-detritus"><rect x="1151" y="363" width="94" height="67" fill="#e1f1d9"/><text x="1198" y="391" style="font-size:27px">pelagic</text><text x="1198" y="421" style="font-size:27px">detritus</text></g>
<g id="b-benthic-detritus"><rect x="1258" y="418" width="135" height="98" fill="#d3eac6"/><text x="1325.5" y="459" style="font-size:40px">benthic</text><text x="1325.5" y="506" style="font-size:40px">detritus</text></g>
</g>
<g id="nodes-c" class="nd">
<g id="c-seabirds"><rect x="207" y="614" width="62" height="22" fill="#ef5156"/><text x="238" y="630">seabirds</text></g>
<g id="c-odontocetes"><rect x="393" y="614" width="87" height="22" fill="#ec2027"/><text x="436.5" y="630">odontocetes</text></g>
<g id="c-fisheries"><rect x="518" y="614" width="62" height="22" fill="#f26a6e"/><text x="549" y="630">fisheries</text></g>
<g id="c-baleen-whales"><rect x="156" y="651" width="52" height="40" fill="#f5989d"/><text x="182" y="668">baleen</text><text x="182" y="686">whales</text></g>
<g id="c-piscivorous-fishes"><rect x="312" y="667" width="80" height="39" fill="#ef5458"/><text x="352" y="684">piscivorous</text><text x="352" y="701">fishes</text></g>
<g id="c-demersal-fishes"><rect x="516" y="689" width="67" height="40" fill="#ffffff"/><text x="549.5" y="706">demersal</text><text x="549.5" y="724">fishes</text></g>
<g id="c-juvenile-fishes"><rect x="125" y="722" width="55" height="40" fill="#a6d48e"/><text x="152.5" y="739">juvenile</text><text x="152.5" y="757">fishes</text></g>
<g id="c-planktivorous-fishes"><rect x="390" y="723" width="93" height="40" fill="#ec1f26"/><text x="436.5" y="740">planktivorous</text><text x="436.5" y="758">fishes</text></g>
<g id="c-macro-zooplankton"><rect x="265" y="769" width="90" height="40" fill="#99ce78"/><text x="310" y="786">macro–</text><text x="310" y="804">zooplankton</text></g>
<g id="c-carnivorous-benthos"><rect x="508" y="769" width="83" height="40" fill="#c1e2b0"/><text x="549.5" y="786">carnivorous</text><text x="549.5" y="804">benthos</text></g>
<g id="c-gelatinous-zooplankton"><rect x="110" y="841" width="86" height="39" fill="#b2d99c"/><text x="153" y="858">gelatinous–</text><text x="153" y="875">zooplankton</text></g>
<g id="c-suspension-feeders"><rect x="465" y="840" width="86" height="40" fill="#d1e8c5"/><text x="508" y="857" style="font-size:16px">suspension</text><text x="508" y="875" style="font-size:16px">feeders</text></g>
<g id="c-meso-zooplankton"><rect x="252" y="857" width="114" height="50" fill="#a8d48d"/><text x="309" y="880" style="font-size:20px">meso–</text><text x="309" y="902" style="font-size:20px">zooplankton</text></g>
<g id="c-deposit-feeders"><rect x="606" y="862" width="55" height="41" fill="#c9e5ba"/><text x="633.5" y="879">deposit</text><text x="633.5" y="897">feeders</text></g>
<g id="c-micro-zooplankton"><rect x="88" y="902" width="132" height="56" fill="#c2e1b1"/><text x="154" y="926" style="font-size:23.5px">micro–</text><text x="154" y="953" style="font-size:23.5px">zooplankton</text></g>
<g id="c-meiobenthos"><rect x="573" y="918" width="92" height="24" fill="#daeed0"/><text x="619" y="935">meiobenthos</text></g>
<g id="c-detritus"><rect x="508" y="976" width="139" height="50" fill="#e4f1dd"/><text x="577.5" y="1015" style="font-size:40px">detritus</text></g>
<g id="c-small-phytoplankton"><rect x="10" y="980" width="230" height="88" fill="#bbdea8"/><text x="125" y="1017" style="font-size:36px">small</text><text x="125" y="1059" style="font-size:36px">phytoplankton</text></g>
<g id="c-large-phytoplankton"><rect x="247" y="980" width="236" height="88" fill="#b6dba0"/><text x="365" y="1017" style="font-size:36px">large</text><text x="365" y="1059" style="font-size:36px">phytoplankton</text></g>
</g>
<g id="nodes-d" class="nd">
<g id="d-seabirds"><rect x="921" y="621" width="64" height="24" fill="#ec2629"/><text x="953" y="638">seabirds</text></g>
<g id="d-crabeater-seals"><rect x="1031" y="613" width="71" height="39" fill="#f59da1"/><text x="1066.5" y="630">crabeater</text><text x="1066.5" y="647">seals</text></g>
<g id="d-weddell-seals"><rect x="1119" y="613" width="64" height="40" fill="#ec2a2e"/><text x="1151" y="630" style="font-size:16px">Weddell</text><text x="1151" y="648" style="font-size:16px">seals</text></g>
<g id="d-baleen-whales"><rect x="870" y="660" width="52" height="40" fill="#f48a90"/><text x="896" y="677">baleen</text><text x="896" y="695">whales</text></g>
<g id="d-penguins"><rect x="1033" y="683" width="66" height="25" fill="#ef5257"/><text x="1066" y="701">penguins</text></g>
<g id="d-demersal-fishes"><rect x="1230" y="697" width="68" height="40" fill="#ef5257"/><text x="1264" y="714">demersal</text><text x="1264" y="732">fishes</text></g>
<g id="d-cephalopods"><rect x="907" y="740" width="91" height="22" fill="#ec2a2e"/><text x="952.5" y="756">cephalopods</text></g>
<g id="d-planktivorous-fishes"><rect x="1103" y="730" width="95" height="40" fill="#ec2027"/><text x="1150.5" y="747">planktivorous</text><text x="1150.5" y="765">fishes</text></g>
<g id="d-macro-zooplankton"><rect x="979" y="778" width="88" height="40" fill="#9ccf7e"/><text x="1023" y="795">macro–</text><text x="1023" y="813">zooplankton</text></g>
<g id="d-ctenophores"><rect x="1064" y="834" width="89" height="23" fill="#c1e2b0"/><text x="1108.5" y="851">ctenophores</text></g>
<g id="d-salps"><rect x="848" y="856" width="40" height="24" fill="#ffffff"/><text x="868" y="873">salps</text></g>
<g id="d-meso-zooplankton"><rect x="972" y="867" width="103" height="47" fill="#abd691"/><text x="1023.5" y="888" style="font-size:18px">meso–</text><text x="1023.5" y="909" style="font-size:18px">zooplankton</text></g>
<g id="d-krill"><rect x="1136" y="879" width="29" height="25" fill="#8bc65a"/><text x="1150.5" y="897">krill</text></g>
<g id="d-deposit-feeders"><rect x="1321" y="870" width="56" height="42" fill="#ffffff"/><text x="1349" y="888">deposit</text><text x="1349" y="907">feeders</text></g>
<g id="d-micro-zooplankton"><rect x="807" y="911" width="121" height="56" fill="#e1f0da"/><text x="867.5" y="934" style="font-size:21.5px">micro–</text><text x="867.5" y="959" style="font-size:21.5px">zooplankton</text></g>
<g id="d-pelagic-detritus"><rect x="1193" y="946" width="115" height="78" fill="#e7f3e1"/><text x="1250.5" y="978" style="font-size:33px">pelagic</text><text x="1250.5" y="1016" style="font-size:33px">detritus</text></g>
<g id="d-small-phytoplankton"><rect x="706" y="984" width="256" height="100" fill="#d3e9c8"/><text x="834" y="1024" style="font-size:40px">small</text><text x="834" y="1071" style="font-size:40px">phytoplankton</text></g>
<g id="d-large-phytoplankton"><rect x="970" y="981" width="220" height="86" fill="#b1d99a"/><text x="1080" y="1017" style="font-size:34px">large</text><text x="1080" y="1057" style="font-size:34px">phytoplankton</text></g>
<g id="d-benthic-detritus"><rect x="1314" y="1006" width="72" height="51" fill="#c7e4b8"/><text x="1350" y="1028" style="font-size:20px">benthic</text><text x="1350" y="1052" style="font-size:20px">detritus</text></g>
</g>
</svg>
